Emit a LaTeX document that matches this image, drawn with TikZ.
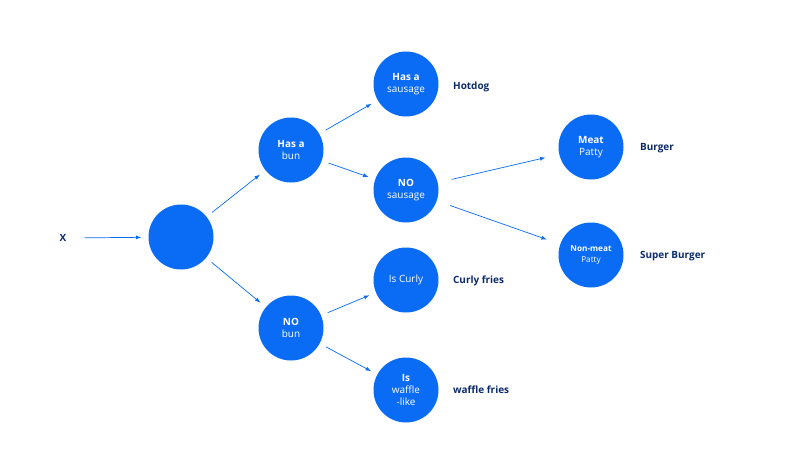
\documentclass[tikz,border=0pt]{standalone}
\usepackage{fontspec}
\setmainfont{Open Sans}
\usetikzlibrary{positioning}
\definecolor{nodeblue}{HTML}{0A6CF5}
\definecolor{navy}{HTML}{0B2A6B}

\begin{document}
\begin{tikzpicture}[x=0.03cm, y=-0.03cm,
    choice/.style={circle, fill=nodeblue, minimum size=1.95cm, inner sep=0pt, text=white, align=center, font=\fontsize{8.5}{10}\selectfont},
    result/.style={text=navy, font=\fontsize{8.5}{10}\selectfont\bfseries, anchor=west},
    link/.style={->, draw=nodeblue, semithick, >=latex, shorten <=6pt, shorten >=6pt}]

\useasboundingbox (0,0) rectangle (807,476);

% Decision nodes
\node[choice] (root) at (181,237) {};
\node[choice] (hasbun) at (291,150) {\textbf{Has a}\\bun};
\node[choice] (nobun) at (291,328) {\textbf{NO}\\bun};
\node[choice] (hassausage) at (406,84) {\textbf{Has a}\\sausage};
\node[choice] (nosausage) at (406,190) {\textbf{NO}\\sausage};
\node[choice] (curly) at (406,280) {Is Curly};
\node[choice] (waffle) at (406,390) {\textbf{Is}\\waffle\\-like};
\node[choice] (meat) at (591,147) {\textbf{Meat}\\Patty};
\node[choice, font=\fontsize{7}{9}\selectfont] (nonmeat) at (591,255) {\textbf{Non-meat}\\Patty};

% Outcomes
\node[text=navy, font=\fontsize{8.5}{10}\selectfont\bfseries] (x) at (63,238) {X};
\node[result] (hotdog) at (449,87) {Hotdog};
\node[result] (burger) at (636,148) {Burger};
\node[result] (superburger) at (636,256) {Super Burger};
\node[result] (curlyfries) at (449,281) {Curly fries};
\node[result] (wafflefries) at (449,390) {waffle fries};

% Connections
\draw[link, shorten <=12pt] (x) -- (root);
\draw[link] (root) -- (hasbun);
\draw[link] (root) -- (nobun);
\draw[link] (hasbun) -- (hassausage);
\draw[link] (hasbun) -- (nosausage);
\draw[link] (nobun) -- (curly);
\draw[link] (nobun) -- (waffle);
\draw[link, shorten <=12pt, shorten >=12pt] (nosausage) -- (meat);
\draw[link, shorten <=12pt, shorten >=12pt] (nosausage) -- (nonmeat);

\end{tikzpicture}
\end{document}
